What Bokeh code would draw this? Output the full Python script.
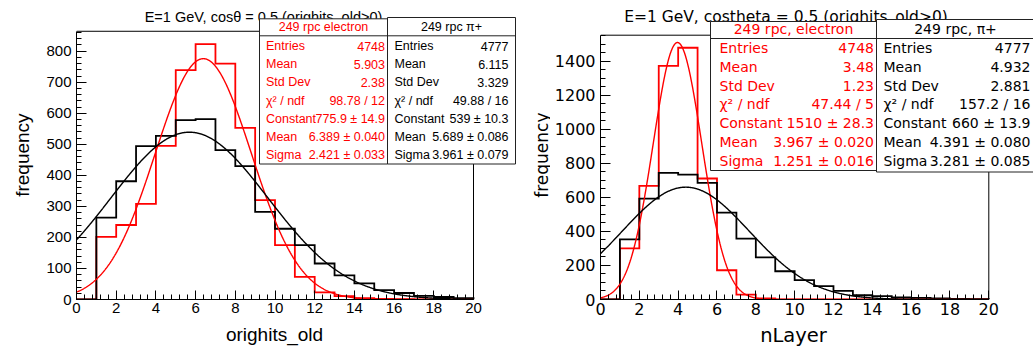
import numpy as np
from bokeh.plotting import figure
from bokeh.models import Range1d, FixedTicker
from bokeh.layouts import row, column
from bokeh.embed import file_html
from bokeh.resources import INLINE
from bokeh.core.properties import value

# ---------------- data ----------------
EDGES = list(range(0, 21))  # bin edges 0..20 (20 bins of width 1)

# left panel: orighits_old
L_ELEC = [0, 202, 240, 308, 495, 739, 823, 760, 553, 320, 175, 73, 23, 11, 4, 2, 1, 0, 0, 0]
L_PION = [0, 264, 381, 494, 527, 578, 581, 481, 430, 282, 228, 175, 116, 78, 52, 30, 21, 12, 8, 4]
# right panel: nLayer
R_ELEC = [0, 300, 668, 1373, 1479, 711, 172, 29, 6, 1, 0, 0, 0, 0, 0, 0, 0, 0, 0, 0]
R_PION = [0, 353, 593, 744, 734, 685, 511, 358, 247, 166, 114, 78, 51, 25, 20, 12, 10, 6, 4, 2]

# gaussian fit parameters (Constant, Mean, Sigma)
L_FIT_ELEC = [775.9, 6.389, 2.421]
L_FIT_PION = [539.0, 5.689, 3.961]
R_FIT_ELEC = [1510.0, 3.967, 1.251]
R_FIT_PION = [660.0, 4.391, 3.281]

STAT_NAMES = ["Entries", "Mean", "Std Dev", "\u03c7\u00b2 / ndf", "Constant", "Mean", "Sigma"]
L_ELEC_STATS = ["4748", "5.903", "2.38", "98.78 / 12", "775.9 \u00b1 14.9", "6.389 \u00b1 0.040", "2.421 \u00b1 0.033"]
L_PION_STATS = ["4777", "6.115", "3.329", "49.88 / 16", "539 \u00b1 10.3", "5.689 \u00b1 0.086", "3.961 \u00b1 0.079"]
R_ELEC_STATS = ["4748", "3.48", "1.23", "47.44 / 5", "1510 \u00b1 28.3", "3.967 \u00b1 0.020", "1.251 \u00b1 0.016"]
R_PION_STATS = ["4777", "4.932", "2.881", "157.2 / 16", "660 \u00b1 13.9", "4.391 \u00b1 0.080", "3.281 \u00b1 0.085"]

L_TITLE = "E=1 GeV, cos\u03b8 = 0.5 (orighits_old>0)"
R_TITLE = "E=1 GeV, costheta = 0.5 (orighits_old>0)"
L_XTITLE = "orighits_old"
R_XTITLE = "nLayer"
Y_TITLE = "frequency"
L_HEAD = ["249 rpc electron", "249 rpc \u03c0+"]
R_HEAD = ["249 rpc, electron", "249 rpc, \u03c0+"]

L_YTICKS = list(range(0, 801, 100))
L_YMINOR = list(range(0, 861, 20))
R_YTICKS = list(range(0, 1401, 200))
R_YMINOR = list(range(0, 1551, 50))
XTICKS = list(range(0, 21, 2))
XMINOR = [round(0.4 * i, 2) for i in range(51)]

RED = "#ff0000"
BLACK = "#000000"
MAIN_H = 321   # main plot height (page y 0 .. 321)
XT_H = 30      # x-title strip height (page y 321 .. 351)


def step_xy(edges, vals):
    xs, ys = [edges[0]], [0]
    for i, v in enumerate(vals):
        xs += [edges[i], edges[i + 1]]
        ys += [v, v]
    xs.append(edges[-1]); ys.append(0)
    return xs, ys


def gauss(params, xx):
    c, m, s = params
    return c * np.exp(-0.5 * ((xx - m) / s) ** 2)


def text_fig(width, height, ox, oy, txt, rx, ry, font, fs, angle=0.0):
    """a blank strip that holds one text, positioned by page pixels"""
    q = figure(width=width, height=height, output_backend="svg", toolbar_location=None,
               x_axis_type=None, y_axis_type=None, min_border=0,
               x_range=Range1d(0, width), y_range=Range1d(0, height))
    q.outline_line_color = None
    q.grid.visible = False
    q.text(x=[rx - ox], y=[height - (ry - oy)], text=[txt], text_font=value(font),
           text_font_size=fs, text_align="center", text_baseline="alphabetic",
           text_color=BLACK, angle=angle)
    return q


def panel(width, ox, frame_l, frame_b, pxx, pxy, elec, pion, fe, fp,
          yticks, yminor, font, tick_fs, title, title_fs, title_cx, title_base,
          head, e_stats, p_stats, st_fs, boxes, rows, head_y, sep_y, pads):
    p = figure(width=width, height=MAIN_H, output_backend="svg", toolbar_location=None,
               min_border_left=frame_l, min_border_right=0, min_border_top=0,
               min_border_bottom=MAIN_H - frame_b,
               x_range=Range1d(0, (width - frame_l) / pxx),
               y_range=Range1d(0, frame_b / pxy))
    p.outline_line_color = None
    p.grid.visible = False
    p.background_fill_color = "white"
    p.border_fill_color = "white"

    def X(rx):
        return (rx - ox - frame_l) / pxx

    def Y(ry):
        return (frame_b - ry) / pxy

    ymax = 1.05 * max(max(elec), max(pion))

    for ax, tk, mn, bd in ((p.xaxis, XTICKS, XMINOR, (0, 20)), (p.yaxis, yticks, yminor, (0, ymax))):
        ax.ticker = FixedTicker(ticks=tk, minor_ticks=mn)
        ax.bounds = bd
        ax.axis_line_color = BLACK
        ax.axis_line_width = 1
        ax.major_tick_line_color = BLACK
        ax.minor_tick_line_color = BLACK
        ax.major_tick_out = 0
        ax.minor_tick_out = 0
        ax.major_label_text_font = font
        ax.major_label_text_font_size = tick_fs
        ax.major_label_text_color = BLACK
    p.xaxis.major_tick_in = 9
    p.xaxis.minor_tick_in = 5
    p.yaxis.major_tick_in = 10
    p.yaxis.minor_tick_in = 5
    p.xaxis.major_label_standoff = 3
    p.yaxis.major_label_standoff = 5

    # title (stat boxes drawn later hide its descenders, as in ROOT)
    p.text(x=[X(title_cx)], y=[Y(title_base)], text=[title], text_font=value(font),
           text_font_size=title_fs, text_align="center", text_baseline="alphabetic",
           text_color=BLACK)

    # frame top / right
    p.line([0, 20, 20], [ymax, ymax, 0], line_color=BLACK, line_width=1)

    # histograms
    xs, ys = step_xy(EDGES, elec)
    p.line(xs, ys, line_color=RED, line_width=1.8, line_join="miter")
    xs, ys = step_xy(EDGES, pion)
    p.line(xs, ys, line_color=BLACK, line_width=1.8, line_join="miter")

    xx = np.linspace(0, 20, 801)
    p.line(xx, gauss(fe, xx), line_color=RED, line_width=1.4)
    p.line(xx, gauss(fp, xx), line_color=BLACK, line_width=1.4)

    # stats boxes
    for (x0, x1, y0, y1), col, hd, vals, (pl, pr) in zip(boxes, (RED, BLACK), head,
                                                       (e_stats, p_stats), pads):
        p.quad(left=[X(x0)], right=[X(x1)], top=[Y(y0)], bottom=[Y(y1)],
               fill_color="white", line_color="#222222", line_width=1)
        p.segment(x0=[X(x0)], x1=[X(x1)], y0=[Y(sep_y)], y1=[Y(sep_y)],
                  line_color="#222222", line_width=1)
        p.text(x=[X((x0 + x1) / 2)], y=[Y(head_y)], text=[hd], text_font=value(font),
               text_font_size=st_fs, text_align="center", text_baseline="middle",
               text_color=col)
        p.text(x=[X(x0 + pl)] * len(rows), y=[Y(r) for r in rows], text=STAT_NAMES,
               text_font=value(font), text_font_size=st_fs, text_align="left",
               text_baseline="middle", text_color=col)
        p.text(x=[X(x1 - pr)] * len(rows), y=[Y(r) for r in rows], text=vals,
               text_font=value(font), text_font_size=st_fs, text_align="right",
               text_baseline="middle", text_color=col)
    return p


# ---------- left panel (page x 0 .. 516) ----------
L_YW = 38
left_main = panel(
    width=478, ox=L_YW, frame_l=38, frame_b=299, pxx=19.85, pxy=0.3104,
    elec=L_ELEC, pion=L_PION, fe=L_FIT_ELEC, fp=L_FIT_PION,
    yticks=L_YTICKS, yminor=L_YMINOR, font="Liberation Sans", tick_fs="15px",
    title=L_TITLE, title_fs="14.5px", title_cx=263, title_base=16.5,
    head=L_HEAD, e_stats=L_ELEC_STATS, p_stats=L_PION_STATS, st_fs="12.5px",
    boxes=[(259, 387, 18.3, 163.5), (387, 515, 17, 163.5)],
    rows=[45.7, 63.7, 81.7, 100, 118.3, 136.5, 154.3], head_y=26.5, sep_y=35.3,
    pads=[(6.5, 2.5), (7, 7)])
left_y = text_fig(L_YW, MAIN_H, 0, 0, Y_TITLE, 22, 166, "Liberation Sans", "19px", np.pi / 2)
left_x = text_fig(516, XT_H, 0, MAIN_H, L_XTITLE, 274, 334, "Liberation Sans", "19px")
left_col = column(row(left_y, left_main), left_x)

# ---------- right panel (page x 516 .. 1033) ----------
R_YW = 34
right_main = panel(
    width=483, ox=516 + R_YW, frame_l=50, frame_b=299, pxx=19.415, pxy=0.1702,
    elec=R_ELEC, pion=R_PION, fe=R_FIT_ELEC, fp=R_FIT_PION,
    yticks=R_YTICKS, yminor=R_YMINOR, font="DejaVu Sans", tick_fs="16px",
    title=R_TITLE, title_fs="15.5px", title_cx=785.5, title_base=16.5,
    head=R_HEAD, e_stats=R_ELEC_STATS, p_stats=R_PION_STATS, st_fs="14px",
    boxes=[(710, 876, 21, 170), (876, 1034, 19, 171.5)],
    rows=[47.3, 66.5, 85.3, 103.8, 122.5, 141.5, 160.3], head_y=28.5, sep_y=38,
    pads=[(9, 2.5), (7, 4)])
right_y = text_fig(R_YW, MAIN_H, 516, 0, Y_TITLE, 541, 166, "DejaVu Sans", "17px", np.pi / 2)
right_x = text_fig(517, XT_H, 516, MAIN_H, R_XTITLE, 793, 334.5, "DejaVu Sans", "19.5px")
right_col = column(row(right_y, right_main), right_x)

layout = row(left_col, right_col)
open("out.html", "w").write(file_html(layout, INLINE))
